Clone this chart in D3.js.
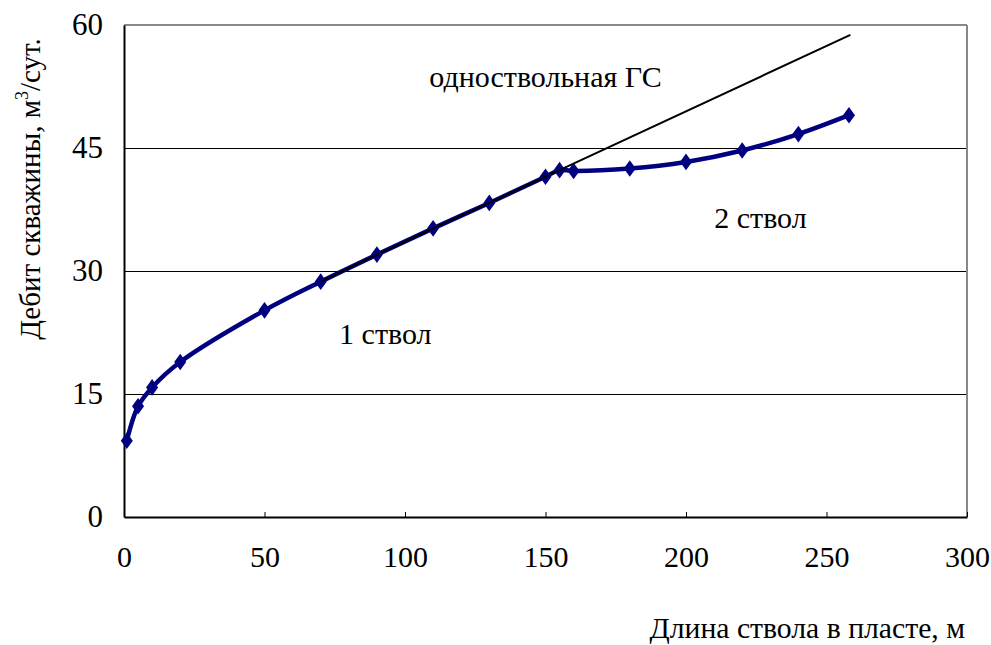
<!DOCTYPE html>
<html><head><meta charset="utf-8">
<script src="https://cdn.jsdelivr.net/npm/d3@7"></script>
<style>body{margin:0;background:#fff;}svg{display:block;}</style>
</head><body>
<svg id="c" width="991" height="645"></svg>
<script>
// Data
const xTicks = [0, 50, 100, 150, 200, 250, 300];
const yTicks = [0, 15, 30, 45, 60];
const twoBoreX = [1, 5, 10, 20, 50, 70, 90, 110, 130, 150, 155, 160, 180, 200, 220, 240, 258];
const twoBoreY = [9.3, 13.5, 15.8, 18.9, 25.2, 28.7, 32.0, 35.2, 38.3, 41.5, 42.3, 42.2, 42.5, 43.3, 44.7, 46.7, 49.0];
const singleX = [70, 90, 110, 130, 150, 258.5];
const singleY = [28.7, 32.0, 35.2, 38.3, 41.5, 58.8];
const labels = [
  {text: "одноствольная ГС", x: 150, y: 53.7},
  {text: "1 ствол", x: 93, y: 22.4},
  {text: "2 ствол", x: 226.5, y: 36.5}
];

const FONT = '"Liberation Serif", "Times New Roman", Tinos, serif';
const svg = d3.select("#c");
const L = 124, R = 967, T = 25, B = 517;
const x = d3.scaleLinear().domain([0, 300]).range([L, R]);
const y = d3.scaleLinear().domain([0, 60]).range([B, T]);

// gridlines
svg.append("g").selectAll("line").data(yTicks.filter(d => d > 0 && d < 60)).join("line")
  .attr("x1", L).attr("x2", R).attr("y1", d => y(d)).attr("y2", d => y(d))
  .attr("stroke", "#000").attr("stroke-width", 1).attr("shape-rendering", "crispEdges");

// frame: top and right gray
svg.append("line").attr("x1", L).attr("x2", R).attr("y1", T).attr("y2", T).attr("stroke", "#888").attr("stroke-width", 2);
svg.append("line").attr("x1", R).attr("x2", R).attr("y1", T).attr("y2", B).attr("stroke", "#888").attr("stroke-width", 2);

// x axis
const xa = svg.append("g").attr("transform", `translate(0,${B})`)
  .call(d3.axisBottom(x).tickValues(xTicks).tickSizeInner(-5).tickSizeOuter(0).tickPadding(29));
xa.select(".domain").attr("stroke", "#000").attr("stroke-width", 2);
xa.selectAll(".tick line").attr("stroke", "#000");
xa.selectAll("text").style("font-family", FONT).style("font-size", "30px").attr("fill", "#000")
  .attr("dy", "0.71em");

// y axis
const ya = svg.append("g").attr("transform", `translate(${L},0)`)
  .call(d3.axisLeft(y).tickValues(yTicks).tickSize(0).tickPadding(21));
ya.select(".domain").attr("stroke", "#000").attr("stroke-width", 2);
ya.selectAll("text").style("font-family", FONT).style("font-size", "31px").attr("fill", "#000");

// lines
const line = d3.line().x(d => x(d[0])).y(d => y(d[1])).curve(d3.curveCatmullRom.alpha(0.5));
const two = twoBoreX.map((v, i) => [v, twoBoreY[i]]);
const single = singleX.map((v, i) => [v, singleY[i]]);

svg.append("path").datum(two).attr("d", line).attr("fill", "none")
  .attr("stroke", "#000080").attr("stroke-width", 4.5).attr("stroke-linejoin", "round");
svg.append("g").selectAll("path").data(two).join("path")
  .attr("d", d3.symbol().type(d3.symbolDiamond).size(80))
  .attr("transform", d => `translate(${x(d[0])},${y(d[1])}) scale(1.25,1)`)
  .attr("fill", "#000080");
svg.append("path").datum(single).attr("d", d3.line().x(d => x(d[0])).y(d => y(d[1])))
  .attr("fill", "none").attr("stroke", "#000").attr("stroke-width", 2);

// annotations
svg.append("g").selectAll("text").data(labels).join("text")
  .attr("x", d => x(d.x)).attr("y", d => y(d.y)).attr("dy", "0.35em")
  .attr("text-anchor", "middle").style("font-family", FONT).style("font-size", "30px").text(d => d.text);

// axis titles
svg.append("text").attr("x", 965).attr("y", 638).attr("text-anchor", "end")
  .style("font-family", FONT).style("font-size", "29.7px")
  .text("Длина ствола в пласте, м");
const yt = svg.append("text").attr("transform", "translate(40,189) rotate(-90)")
  .attr("text-anchor", "middle").style("font-family", FONT).style("font-size", "29px");
yt.append("tspan").text("Дебит скважины, м");
yt.append("tspan").style("font-size", "18px").attr("dy", -12).text("3");
yt.append("tspan").attr("dy", 12).text("/сут.");
</script>
</body></html>
